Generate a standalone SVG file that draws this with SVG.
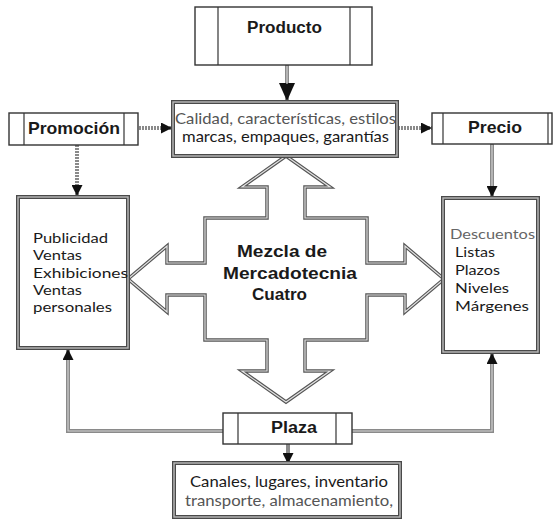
<svg xmlns="http://www.w3.org/2000/svg" width="554" height="519" viewBox="0 0 554 519">
  <style>
    .title { font-family: "Liberation Sans", Arial, sans-serif; font-weight: bold; font-size: 16px; fill: #1a1a1a; }
    .body { font-family: Lato, "Open Sans", sans-serif; font-size: 15px; fill: #1a1a1a; }
    .list { font-size: 14px; }
    .soft { fill: #555; }
    .center { font-family: "Liberation Sans", Arial, sans-serif; font-weight: bold; font-size: 17px; fill: #1a1a1a; }
    .tbox { fill: #fff; stroke: #333; stroke-width: 1.4; }
    .div { stroke: #333; stroke-width: 1.2; }
    .dbl-out { fill: #fff; stroke: #4a4a4a; stroke-width: 4; }
    .dbl-in { fill: none; stroke: #bbb; stroke-width: 1.4; }
    .wire { fill: none; stroke: #8a8a8a; stroke-width: 4; }
    .wire-in { fill: none; stroke: #d0d0d0; stroke-width: 1.2; }
    .cross-out { fill: #fff; stroke: #555; stroke-width: 3.5; stroke-linejoin: miter; }
    .cross-in { fill: none; stroke: #e2e2e2; stroke-width: 1.2; stroke-linejoin: miter; }
  </style>
  <defs>
    <marker id="head" markerUnits="userSpaceOnUse" markerWidth="11" markerHeight="11" refX="11" refY="5.5" orient="auto">
      <path d="M0,0 L11,5.5 L0,11 z" fill="#111"/>
    </marker>
    <marker id="bighead" markerUnits="userSpaceOnUse" markerWidth="18" markerHeight="16" refX="18" refY="8" orient="auto">
      <path d="M0,0 L18,8 L0,16 z" fill="#111"/>
    </marker>
  </defs>

  <!-- connectors -->
  <g id="connectors">
    <!-- Producto -> attributes -->
    <line class="wire" x1="287" y1="65" x2="287" y2="101" marker-end="url(#bighead)"/>
    <line class="wire-in" x1="287" y1="66" x2="287" y2="84"/>
    <!-- Promocion -> attributes -->
    <line class="wire" x1="139" y1="128" x2="172" y2="128" stroke-dasharray="2 1" marker-end="url(#head)"/>
    <!-- attributes -> Precio -->
    <line class="wire" x1="398" y1="128" x2="432" y2="128" stroke-dasharray="2 1" marker-end="url(#head)"/>
    <!-- Promocion -> list -->
    <line class="wire" x1="77" y1="145" x2="77" y2="196" stroke-width="3" stroke-dasharray="2 1" marker-end="url(#head)"/>
    <!-- Precio -> list -->
    <line class="wire" x1="492" y1="144" x2="492" y2="197" marker-end="url(#head)"/>
    <line class="wire-in" x1="492" y1="145" x2="492" y2="186"/>
    <!-- Plaza -> left list -->
    <polyline class="wire" points="223,431 68,431 68,349" marker-end="url(#head)"/>
    <polyline class="wire-in" points="223,431 68,431 68,360"/>
    <!-- Plaza -> right list -->
    <polyline class="wire" points="352,431 492,431 492,353" marker-end="url(#head)"/>
    <polyline class="wire-in" points="352,431 492,431 492,364"/>
    <!-- Plaza -> channels -->
    <line class="wire" x1="288" y1="444" x2="288" y2="464" stroke-width="3" marker-end="url(#head)"/>
  </g>

  <!-- four-way arrow -->
  <g id="mezcla">
    <path class="cross-out" d="M286,156 L330,187 L305,187 L305,218 L367,218 L367,263 L405,263 L405,246 L444,279 L405,312 L405,295 L367,295 L367,340 L305,340 L305,371 L330,371 L286,402 L242,371 L267,371 L267,340 L205,340 L205,295 L167,295 L167,312 L128,279 L167,246 L167,263 L205,263 L205,218 L267,218 L267,187 L242,187 Z"/>
    <path class="cross-in" d="M286,156 L330,187 L305,187 L305,218 L367,218 L367,263 L405,263 L405,246 L444,279 L405,312 L405,295 L367,295 L367,340 L305,340 L305,371 L330,371 L286,402 L242,371 L267,371 L267,340 L205,340 L205,295 L167,295 L167,312 L128,279 L167,246 L167,263 L205,263 L205,218 L267,218 L267,187 L242,187 Z"/>
    <text class="center" x="237" y="257" textLength="90" lengthAdjust="spacingAndGlyphs">Mezcla de</text>
    <text class="center" x="223" y="279" textLength="134" lengthAdjust="spacingAndGlyphs">Mercadotecnia</text>
    <text class="center" x="252" y="300" textLength="55" lengthAdjust="spacingAndGlyphs">Cuatro</text>
  </g>

  <!-- Producto -->
  <g id="producto">
    <rect class="tbox" x="195" y="7" width="177" height="58"/>
    <line class="div" x1="218" y1="7" x2="218" y2="65"/>
    <line class="div" x1="350" y1="7" x2="350" y2="65"/>
    <text class="title" x="247" y="33" textLength="75" lengthAdjust="spacingAndGlyphs">Producto</text>
  </g>

  <!-- product attributes -->
  <g id="atributos">
    <rect class="dbl-out" x="173" y="102" width="224" height="54"/>
    <rect class="dbl-in" x="173" y="102" width="224" height="54"/>
    <text class="body soft" x="175" y="124" textLength="221" lengthAdjust="spacingAndGlyphs">Calidad, características, estilos</text>
    <text class="body" x="182" y="142" textLength="207" lengthAdjust="spacingAndGlyphs">marcas, empaques, garantías</text>
  </g>

  <!-- Promocion -->
  <g id="promocion">
    <rect class="tbox" x="9" y="113" width="129" height="32"/>
    <line class="div" x1="24" y1="113" x2="24" y2="145"/>
    <line class="div" x1="124" y1="113" x2="124" y2="145"/>
    <text class="title" x="28" y="134" font-size="17" style="font-size:17px" textLength="92" lengthAdjust="spacingAndGlyphs">Promoción</text>
  </g>

  <!-- Precio -->
  <g id="precio">
    <rect class="tbox" x="432" y="113" width="120" height="31"/>
    <line class="div" x1="443" y1="113" x2="443" y2="144"/>
    <line class="div" x1="548" y1="113" x2="548" y2="144"/>
    <text class="title" x="468" y="133" style="font-size:17px" textLength="54" lengthAdjust="spacingAndGlyphs">Precio</text>
  </g>

  <!-- promotion list -->
  <g id="promocion-lista">
    <rect class="dbl-out" x="18" y="197" width="110" height="151"/>
    <rect class="dbl-in" x="18" y="197" width="110" height="151"/>
    <text class="body list" x="33" y="243" textLength="75" lengthAdjust="spacingAndGlyphs">Publicidad</text>
    <text class="body list" x="33" y="260" textLength="49" lengthAdjust="spacingAndGlyphs">Ventas</text>
    <text class="body list" x="33" y="278" textLength="95" lengthAdjust="spacingAndGlyphs">Exhibiciones</text>
    <text class="body list" x="33" y="295" textLength="49" lengthAdjust="spacingAndGlyphs">Ventas</text>
    <text class="body list" x="33" y="312" textLength="79" lengthAdjust="spacingAndGlyphs">personales</text>
  </g>

  <!-- price list -->
  <g id="precio-lista">
    <rect class="dbl-out" x="443" y="198" width="95" height="154"/>
    <rect class="dbl-in" x="443" y="198" width="95" height="154"/>
    <text class="body list" x="450" y="239" style="fill:#666" textLength="85" lengthAdjust="spacingAndGlyphs">Descuentos</text>
    <text class="body list" x="455" y="257" textLength="40" lengthAdjust="spacingAndGlyphs">Listas</text>
    <text class="body list" x="455" y="275" textLength="45" lengthAdjust="spacingAndGlyphs">Plazos</text>
    <text class="body list" x="455" y="293" textLength="54" lengthAdjust="spacingAndGlyphs">Niveles</text>
    <text class="body list" x="455" y="311" textLength="74" lengthAdjust="spacingAndGlyphs">Márgenes</text>
  </g>

  <!-- Plaza -->
  <g id="plaza">
    <rect class="tbox" x="223" y="413" width="129" height="31"/>
    <line class="div" x1="238" y1="413" x2="238" y2="444"/>
    <line class="div" x1="336" y1="413" x2="336" y2="444"/>
    <text class="title" x="271" y="433" textLength="46" lengthAdjust="spacingAndGlyphs">Plaza</text>
  </g>

  <!-- distribution list -->
  <g id="plaza-lista">
    <rect class="dbl-out" x="174" y="463" width="226" height="54"/>
    <rect class="dbl-in" x="174" y="463" width="226" height="54"/>
    <text class="body" x="190" y="487" textLength="198" lengthAdjust="spacingAndGlyphs">Canales, lugares, inventario</text>
    <text class="body soft" x="185" y="506" textLength="208" lengthAdjust="spacingAndGlyphs">transporte, almacenamiento,</text>
  </g>
</svg>
